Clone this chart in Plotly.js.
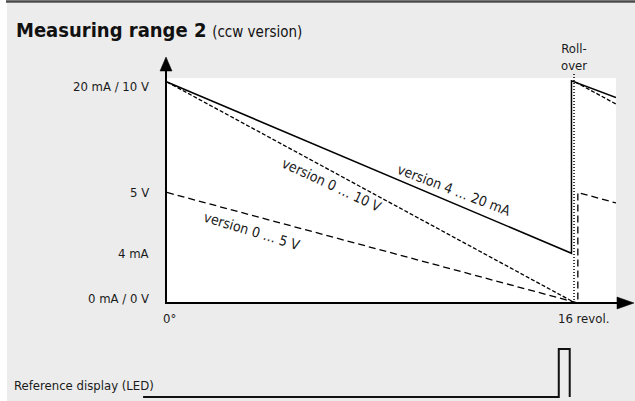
<!DOCTYPE html>
<html><head><meta charset="utf-8">
<script src="https://cdn.plot.ly/plotly-3.0.1.min.js"></script>
<style>html,body{margin:0;padding:0;background:#fff}</style>
</head><body><div id="chart" style="width:635px;height:401px"></div>
<script>
// ---- data ----
const yTickVals = [0, 4.5, 10, 20];
const yTickText = ['0 mA / 0 V', '4 mA', '5 V', '20 mA / 10 V'];
const xTickVals = [0, 16];
const xTickText = ['0°', '16 revol.'];
const curX_4_20 = [0, 15.9, 15.9, 17.65];
const curY_4_20 = [20, 4.5, 20.1, 18.6];
const volX_0_10 = [0, 16.05, null, 16.05, 17.65];
const volY_0_10 = [20, 0, null, 20, 18.0];
const volX_0_5 = [0, 16.15, 16.15, 17.65];
const volY_0_5 = [10, 0, 10, 9.05];
const rollX = [16, 16];
const rollY = [0, 20.8];
const ledX = [-0.94, 15.4, 15.4, 15.83, 15.83];
const ledY = [0, 0, 1, 1, 0];
const lineLabels = ['version 4 … 20 mA', 'version 0 … 10 V', 'version 0 … 5 V'];

// ---- layout helpers ----
const W = 635, H = 401;
const px = x => x / W;
const py = y => 1 - y / H;
const FONT = '"Liberation Sans Narrow", "DejaVu Sans Condensed", "Roboto Condensed", sans-serif';
const TXT = '#1a1a1a';

const traces = [
  {x: curX_4_20, y: curY_4_20, mode: 'lines', line: {color: '#000', width: 1.5}},
  {x: volX_0_10, y: volY_0_10, mode: 'lines', line: {color: '#000', width: 1.3, dash: '4px,2px'}},
  {x: volX_0_5, y: volY_0_5, mode: 'lines', line: {color: '#000', width: 1.3, dash: '7px,4px'}},
  {x: rollX, y: rollY, mode: 'lines', line: {color: '#000', width: 1.5, dash: '1px,2px'}},
  {x: ledX, y: ledY, mode: 'lines', xaxis: 'x2', yaxis: 'y2', line: {color: '#111', width: 2}}
];

const annotations = [];
annotations.push({xref: 'paper', yref: 'paper', x: px(14), y: py(30), xanchor: 'left', yanchor: 'middle',
  showarrow: false, font: {family: FONT, size: 20, color: '#111'},
  text: '<b>Measuring range 2</b> <span style="font-size:15px">(ccw version)</span>'});
yTickVals.forEach((v, i) => {
  annotations.push({xref: 'paper', yref: 'y', x: px(151), y: v, xanchor: 'right', yanchor: 'middle',
    yshift: v === 20 ? -5 : (v === 0 ? 5 : 0),
    showarrow: false, font: {family: FONT, size: 13, color: TXT}, text: yTickText[i]});
});
xTickVals.forEach((v, i) => {
  annotations.push({xref: 'x', yref: 'paper', x: v, y: py(318), xanchor: i === 0 ? 'center' : 'left',
    xshift: i === 0 ? 3 : -18, yanchor: 'middle',
    showarrow: false, font: {family: FONT, size: 13, color: TXT}, text: xTickText[i]});
});
annotations.push({xref: 'x', yref: 'y', x: 11.28, y: 10.2, textangle: 21, showarrow: false,
  font: {family: FONT, size: 14, color: TXT}, text: lineLabels[0]});
annotations.push({xref: 'x', yref: 'y', x: 6.49, y: 10.7, textangle: 25, showarrow: false,
  font: {family: FONT, size: 14, color: TXT}, text: lineLabels[1]});
annotations.push({xref: 'x', yref: 'y', x: 3.34, y: 6.5, textangle: 17, showarrow: false,
  font: {family: FONT, size: 14, color: TXT}, text: lineLabels[2]});
annotations.push({xref: 'x', yref: 'paper', x: 16, y: py(57), xanchor: 'center', yanchor: 'middle',
  showarrow: false, font: {family: FONT, size: 13, color: TXT}, text: 'Roll-<br>over'});
annotations.push({xref: 'paper', yref: 'paper', x: px(12), y: py(385), xanchor: 'left', yanchor: 'middle',
  showarrow: false, font: {family: FONT, size: 13, color: TXT}, text: 'Reference display (LED)'});

const shapes = [
  {type: 'rect', xref: 'paper', yref: 'paper', x0: px(7), x1: 1, y0: 0, y1: py(3), fillcolor: '#ececec', line: {width: 0}, layer: 'below'},
  {type: 'line', xref: 'paper', yref: 'paper', x0: px(6), x1: 1, y0: py(1.5), y1: py(1.5), line: {color: '#4a4a4a', width: 2.5}},
  {type: 'rect', xref: 'x', yref: 'y', x0: -0.04, x1: 17.65, y0: 0, y1: 20.36, fillcolor: '#ffffff', line: {width: 0}, layer: 'below'},
  {type: 'line', xref: 'paper', yref: 'paper', x0: px(166), x1: px(166), y0: py(304), y1: py(68), line: {color: '#000', width: 2}},
  {type: 'path', xref: 'paper', yref: 'paper', path: `M ${px(160)},${py(71)} L ${px(166)},${py(57)} L ${px(172)},${py(71)} Z`, fillcolor: '#000', line: {color: '#000', width: 0.5}},
  {type: 'line', xref: 'paper', yref: 'paper', x0: px(165), x1: px(622), y0: py(303), y1: py(303), line: {color: '#000', width: 2}},
  {type: 'path', xref: 'paper', yref: 'paper', path: `M ${px(617)},${py(297)} L ${px(634)},${py(303)} L ${px(617)},${py(309)} Z`, fillcolor: '#000', line: {color: '#000', width: 0.5}}
];

const layout = {
  width: W, height: H, margin: {l: 0, r: 0, t: 0, b: 0},
  paper_bgcolor: '#ffffff', plot_bgcolor: 'rgba(0,0,0,0)', showlegend: false,
  xaxis: {domain: [px(166), px(616)], range: [-0.039, 17.65], showgrid: false, zeroline: false, showline: false, showticklabels: false, ticks: '', fixedrange: true},
  yaxis: {domain: [py(303), py(56)], range: [0, 22.35], showgrid: false, zeroline: false, showline: false, showticklabels: false, ticks: '', fixedrange: true},
  xaxis2: {domain: [0, 1], range: [-6.564, 18.396], anchor: 'y2', visible: false, fixedrange: true},
  yaxis2: {domain: [py(399), py(345)], range: [-0.0417, 1.0833], anchor: 'x2', visible: false, fixedrange: true},
  annotations: annotations, shapes: shapes
};
Plotly.newPlot('chart', traces, layout, {displayModeBar: false, staticPlot: true});
</script></body></html>
